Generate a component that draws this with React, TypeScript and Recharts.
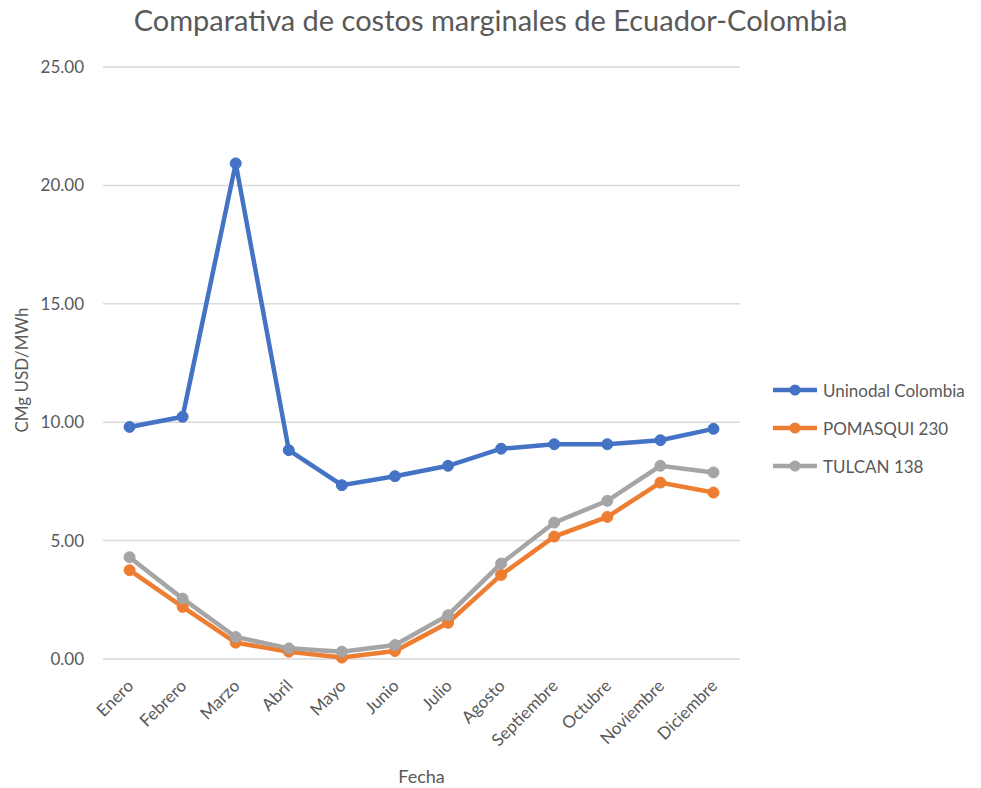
import React from 'react';
import { LineChart, Line, XAxis, YAxis, CartesianGrid, Legend, Label } from 'recharts';

const months = ['Enero', 'Febrero', 'Marzo', 'Abril', 'Mayo', 'Junio', 'Julio', 'Agosto', 'Septiembre', 'Octubre', 'Noviembre', 'Diciembre'];
const uninodalColombia = [9.8, 10.23, 20.93, 8.82, 7.34, 7.72, 8.16, 8.88, 9.07, 9.07, 9.24, 9.72];
const pomasqui230 = [3.75, 2.2, 0.69, 0.31, 0.06, 0.34, 1.53, 3.55, 5.17, 6.0, 7.45, 7.03];
const tulcan138 = [4.3, 2.55, 0.93, 0.45, 0.31, 0.59, 1.85, 4.03, 5.76, 6.68, 8.16, 7.88];
const yTicks = [0, 5, 10, 15, 20, 25];

const series = [
  { key: 'uninodal', name: 'Uninodal Colombia', color: '#4472C4' },
  { key: 'pomasqui', name: 'POMASQUI 230', color: '#ED7D31' },
  { key: 'tulcan', name: 'TULCAN 138', color: '#A5A5A5' },
];

const data = months.map((m, i) => ({
  mes: m,
  uninodal: uninodalColombia[i],
  pomasqui: pomasqui230[i],
  tulcan: tulcan138[i],
}));

const FONT = 'Lato, "Open Sans", sans-serif';
const TEXT = '#595959';
const LEGEND_W = 208;

const MonthTick = ({ x, y, payload }: any) => {
  const ax = x + 5;
  const ay = y + 26;
  return (
    <text x={ax} y={ay} transform={`rotate(-45, ${ax}, ${ay})`} textAnchor="end" fill={TEXT} fontSize={17} fontFamily={FONT}>
      {payload.value}
    </text>
  );
};

const YTitle = ({ viewBox }: any) => {
  const cx = viewBox.x + 28;
  const cy = viewBox.y + viewBox.height / 2 + 7;
  return (
    <text x={cx} y={cy} transform={`rotate(-90, ${cx}, ${cy})`} textAnchor="middle" fill={TEXT} fontSize={17} fontFamily={FONT}>
      CMg USD/MWh
    </text>
  );
};

const LegendBox = () => (
  <div style={{ fontFamily: FONT, fontSize: 17, color: TEXT }}>
    {series.map((s) => (
      <div key={s.key} style={{ display: 'flex', alignItems: 'center', height: 38 }}>
        <svg width={46} height={14} style={{ marginRight: 4 }}>
          <line x1={0} y1={7} x2={44} y2={7} stroke={s.color} strokeWidth={4.5} />
          <circle cx={22} cy={7} r={5.5} fill={s.color} />
        </svg>
        <span>{s.name}</span>
      </div>
    ))}
  </div>
);

export default function App() {
  return (
    <div style={{ position: 'absolute', left: 0, top: 0, width: 981, height: 788, background: '#fff' }}>
      <div style={{ position: 'absolute', top: 2, width: 981, textAlign: 'center', fontFamily: FONT, fontSize: 29, color: TEXT }}>
        Comparativa de costos marginales de Ecuador-Colombia
      </div>
      <LineChart width={981} height={788} data={data} margin={{ top: 67, right: 241 - LEGEND_W, bottom: 0, left: 0 }}>
        <CartesianGrid vertical={false} stroke="#D9D9D9" strokeWidth={1.5} />
        <XAxis
          dataKey="mes"
          scale="band"
          axisLine={false}
          tickLine={false}
          tickSize={0}
          height={129}
          interval={0}
          tick={<MonthTick />}
        >
          <Label value="Fecha" position="insideBottom" offset={5} fill={TEXT} fontSize={18} fontFamily={FONT} />
        </XAxis>
        <YAxis
          domain={[0, 25]}
          ticks={yTicks}
          width={103}
          axisLine={false}
          tickLine={false}
          tickSize={0}
          tickMargin={19}
          tickFormatter={(v: number) => v.toFixed(2)}
          tick={{ fill: TEXT, fontSize: 17, fontFamily: FONT }}
        >
          <Label content={<YTitle />} />
        </YAxis>
        <Legend
          layout="vertical"
          align="right"
          verticalAlign="top"
          wrapperStyle={{ left: 773, top: 371, width: LEGEND_W }}
          content={<LegendBox />}
        />
        {series.map((s) => (
          <Line
            key={s.key}
            type="linear"
            dataKey={s.key}
            name={s.name}
            stroke={s.color}
            strokeWidth={4.5}
            dot={{ r: 5.5, fill: s.color, stroke: s.color, strokeWidth: 1 }}
            activeDot={false}
            isAnimationActive={false}
          />
        ))}
      </LineChart>
    </div>
  );
}
